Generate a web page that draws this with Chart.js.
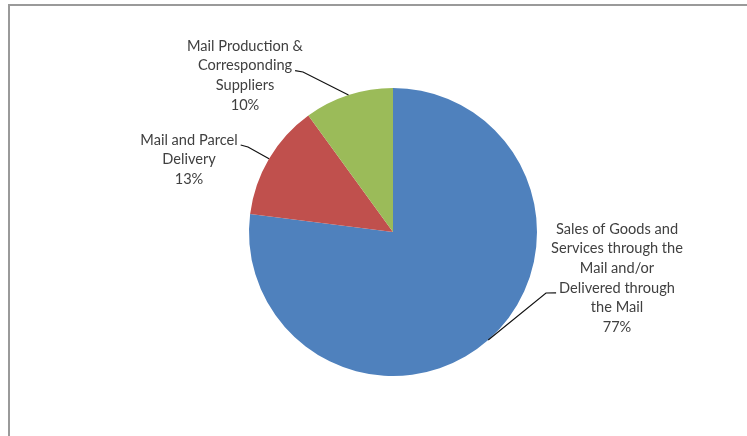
<!DOCTYPE html>
<html>
<head>
<meta charset="utf-8">
<script src="https://cdn.jsdelivr.net/npm/chart.js@4.4.1/dist/chart.umd.min.js"></script>
<style>
  html, body { margin: 0; padding: 0; background: #fff; overflow: hidden; }
  #wrap { position: relative; width: 747px; height: 436px; overflow: hidden; }
  #frame {
    position: absolute; left: 8px; top: 4px; width: 780px; height: 480px;
    border-left: 2px solid #9a9a9a; border-top: 2px solid #9a9a9a;
  }
  canvas { position: absolute; left: 0; top: 0; }
</style>
</head>
<body>
<div id="wrap">
  <div id="frame"></div>
  <canvas id="pie" width="747" height="436"></canvas>
</div>
<script>
const categories = [
  ['Sales of Goods and', 'Services through the', 'Mail and/or', 'Delivered through', 'the Mail'],
  ['Mail and Parcel', 'Delivery'],
  ['Mail Production &', 'Corresponding', 'Suppliers']
];
const shares = [77, 13, 10];
const sliceColors = ['#4f81bd', '#c0504d', '#9bbb59'];

// label blocks, offsets from the pie centre:
// cx/top = centre of the block and its first line, elbow = bend of the leader,
// line = which text line the leader runs into, side = which side of that line
const labelLayout = [
  { cx: 224, top: -3, elbow: [153, 61], line: 3, side: 'left' },
  { cx: -204, top: -92, elbow: [-145, -85], line: 0, side: 'right' },
  { cx: -148, top: -186, elbow: [-90, -160], line: 1, side: 'right' }
];
const LINE_H = 19.6;
const FONT = '14.6px Lato, "Open Sans", sans-serif';

const pieLabels = {
  id: 'pieLabels',
  afterDatasetsDraw(chart) {
    const ctx = chart.ctx;
    const arcs = chart.getDatasetMeta(0).data;
    ctx.save();
    ctx.font = FONT;
    ctx.textAlign = 'center';
    ctx.textBaseline = 'middle';
    arcs.forEach((arc, i) => {
      const { x, y, startAngle, endAngle, outerRadius } =
        arc.getProps(['x', 'y', 'startAngle', 'endAngle', 'outerRadius'], true);
      const lay = labelLayout[i];
      const lines = categories[i].concat([shares[i] + '%']);
      const bx = x + lay.cx;
      const by = y + lay.top;

      ctx.fillStyle = '#404040';
      lines.forEach((t, k) => ctx.fillText(t, bx, by + k * LINE_H));

      // leader: slice edge at mid angle -> elbow -> text line
      const mid = (startAngle + endAngle) / 2;
      const ex = x + Math.cos(mid) * outerRadius;
      const ey = y + Math.sin(mid) * outerRadius;
      const w = ctx.measureText(lines[lay.line]).width;
      const ly = by + lay.line * LINE_H + 5;
      const lx = lay.side === 'left' ? bx - w / 2 - 3 : bx + w / 2 + 3;
      ctx.strokeStyle = '#111';
      ctx.lineWidth = 1.2;
      ctx.beginPath();
      ctx.moveTo(ex, ey);
      ctx.lineTo(x + lay.elbow[0], y + lay.elbow[1]);
      ctx.lineTo(lx, ly);
      ctx.stroke();
    });
    ctx.restore();
  }
};

new Chart(document.getElementById('pie'), {
  type: 'pie',
  data: {
    labels: categories.map(c => c.join(' ')),
    datasets: [{
      data: shares,
      backgroundColor: sliceColors,
      borderWidth: 0
    }]
  },
  options: {
    responsive: false,
    animation: false,
    devicePixelRatio: 1,
    layout: { padding: { top: 88, bottom: 60, left: 39, right: 0 } },
    plugins: { legend: { display: false }, tooltip: { enabled: false } }
  },
  plugins: [pieLabels]
});
</script>
</body>
</html>
